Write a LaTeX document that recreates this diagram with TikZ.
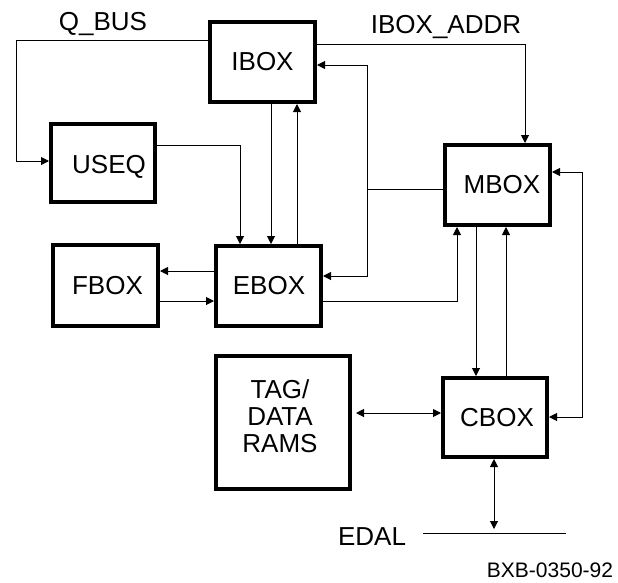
\documentclass[tikz,border=0pt]{standalone}
\usepackage{fontspec}
\setmainfont{Liberation Sans}
\usetikzlibrary{arrows.meta}
\begin{document}
\begin{tikzpicture}[x=1pt,y=-1pt,
  blk/.style={draw, line width=4pt, rectangle, inner sep=0pt},
  con/.style={line width=1pt},
  arr/.style={con, -{Triangle[length=8pt,width=8pt]}},
  darr/.style={con, {Triangle[length=8pt,width=8pt]}-{Triangle[length=8pt,width=8pt]}},
  txt/.style={font=\fontsize{26}{27}\selectfont, inner sep=0pt, anchor=base, align=center},
  small/.style={font=\fontsize{21}{24}\selectfont, inner sep=0pt, anchor=base},
]
\useasboundingbox (0,0) rectangle (618,582);

% blocks
\node[blk, minimum width=105pt, minimum height=80pt] (ibox) at (262.5,62) {};
\node[blk, minimum width=104pt, minimum height=78pt] (useq) at (103,163) {};
\node[blk, minimum width=105pt, minimum height=81pt] (fbox) at (105.5,285.5) {};
\node[blk, minimum width=105pt, minimum height=80pt] (ebox) at (268.5,286) {};
\node[blk, minimum width=105pt, minimum height=80pt] (mbox) at (497.5,185) {};
\node[blk, minimum width=104pt, minimum height=79pt] (cbox) at (495,417.5) {};
\node[blk, minimum width=134pt, minimum height=133pt] (tag) at (283,422.5) {};

% block texts
\node[txt] (iboxt) at (262.5,70.7) {IBOX};
\node[txt] (useqt) at (109,173) {USEQ};
\node[txt] (fboxt) at (107.5,294) {FBOX};
\node[txt] (eboxt) at (269,294) {EBOX};
\node[txt] (mboxt) at (502,193) {MBOX};
\node[txt] (cboxt) at (497,426) {CBOX};
\node[txt, anchor=center] (tagt) at (280,416.5) {TAG/\\DATA\\RAMS};

% labels
\node[txt] (qbus) at (103,30.5) {Q\_BUS};
\node[txt] (iaddr) at (446,33) {IBOX\_ADDR};
\node[txt] (edal) at (372,545) {EDAL};
\node[small] (fig) at (550,577) {BXB-0350-92};

% EDAL bus line
\coordinate (edalL) at (423,533);
\coordinate (edalR) at (566,533);
\draw[con] (edalL) -- (edalR);

% Q_BUS
\draw[arr] (ibox.west |- 0,40) -- (16,40) -- (16,161) -- (useq.west |- 0,161);
% USEQ -> EBOX
\draw[arr] (useq.east |- 0,145) -- (240,145) -- (ebox.north -| 240,0);
% IBOX <-> EBOX
\draw[arr] (ibox.south -| 271,0) -- (ebox.north -| 271,0);
\draw[arr] (ebox.north -| 297,0) -- (ibox.south -| 297,0);
% IBOX_ADDR
\draw[arr] (ibox.east |- 0,44) -- (525,44) -- (mbox.north -| 525,0);
% MBOX -> IBOX, EBOX
\draw[con] (mbox.west |- 0,189) -- (367,189);
\draw[arr] (367,189) -- (367,65) -- (ibox.east |- 0,65);
\draw[arr] (367,189) -- (367,276) -- (ebox.east |- 0,276);
% FBOX <-> EBOX
\draw[arr] (ebox.west |- 0,271) -- (fbox.east |- 0,271);
\draw[arr] (fbox.east |- 0,301) -- (ebox.west |- 0,301);
% EBOX -> MBOX
\draw[arr] (ebox.east |- 0,301) -- (457,301) -- (mbox.south -| 457,0);
% MBOX <-> CBOX
\draw[arr] (mbox.south -| 476,0) -- (cbox.north -| 476,0);
\draw[arr] (cbox.north -| 506,0) -- (mbox.south -| 506,0);
\draw[darr] (mbox.east |- 0,172) -- (582,172) -- (582,417) -- (cbox.east |- 0,417);
% TAG <-> CBOX
\draw[darr] ([xshift=4pt]tag.east |- 0,413) -- (cbox.west |- 0,413);
% CBOX <-> EDAL
\draw[darr] (cbox.south -| 494,0) -- (494,529);
\end{tikzpicture}
\end{document}
